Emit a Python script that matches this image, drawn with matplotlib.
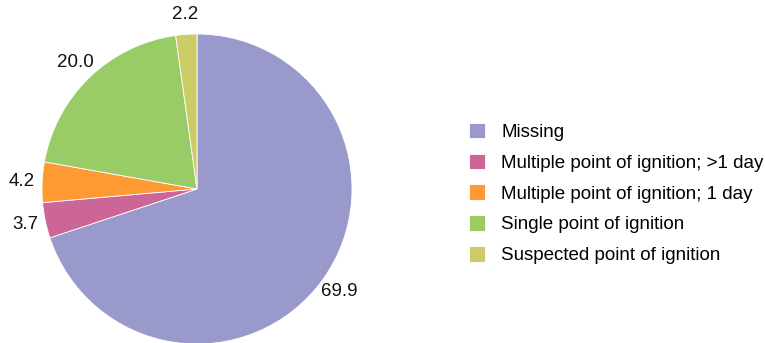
import matplotlib
matplotlib.use('Agg')
import matplotlib.pyplot as plt

categories = ['Missing', 'Multiple point of ignition; >1 day',
              'Multiple point of ignition; 1 day', 'Single point of ignition',
              'Suspected point of ignition']
values = [69.9, 3.7, 4.2, 20.0, 2.2]
colors = ['#9999cc', '#cc6699', '#ff9933', '#99cc66', '#cccc66']

plt.rcParams['font.family'] = ['Liberation Sans', 'DejaVu Sans']

fig = plt.figure(figsize=(7.65, 3.43), dpi=100)
# square axes: centre at (197, 189) px from top-left, radius 155 px
cx, cy, r = 197, 343 - 189, 155
ax = fig.add_axes([(cx - r) / 765, (cy - r) / 343, 2 * r / 765, 2 * r / 343])

wedges, texts = ax.pie(values, colors=colors, startangle=90, counterclock=False,
                       labels=[f'{v:.1f}' for v in values], labeldistance=1.13,
                       wedgeprops=dict(edgecolor='white', linewidth=0.6),
                       textprops=dict(fontsize=13.5, color='#111111'))
for t in texts:
    t.set_ha('center')
    t.set_va('center')
ax.set_xlim(-1, 1)
ax.set_ylim(-1, 1)
ax.set_aspect('auto')
ax.axis('off')

fig.legend(wedges, categories, loc='center left',
           bbox_to_anchor=(461 / 765, 1 - 193.5 / 343), frameon=False,
           fontsize=13.5, handlelength=0.9, handleheight=0.9,
           handletextpad=0.85, labelspacing=0.67, borderaxespad=0)

fig.savefig('out.png', dpi=100)
